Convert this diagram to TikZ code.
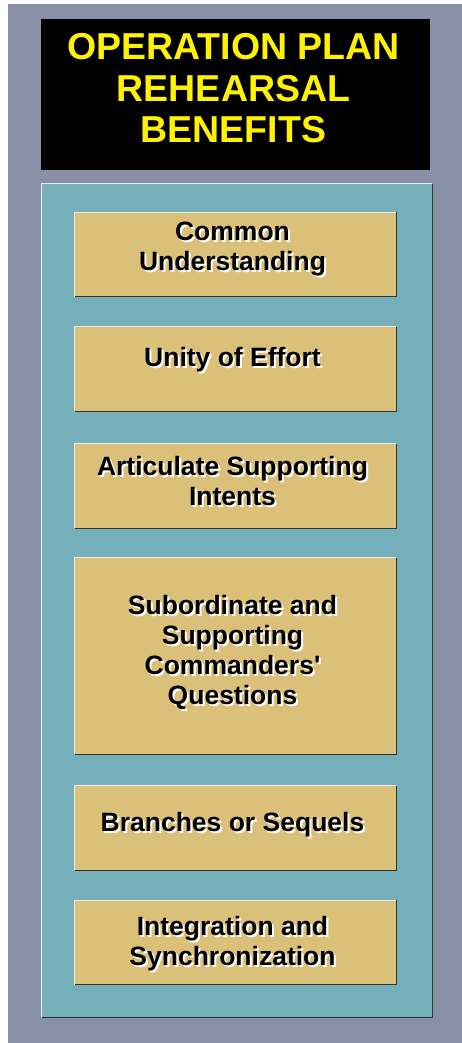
\documentclass[tikz,border=0pt]{standalone}
\usepackage{fontspec}
\setmainfont{Liberation Sans}
\usetikzlibrary{positioning}

\definecolor{slate}{HTML}{8890A8}
\definecolor{teal}{HTML}{74AFBA}
\definecolor{sand}{HTML}{DBC07A}
\definecolor{titleyellow}{HTML}{FFF200}

% text with a white drop shadow
\newcommand{\sh}[1]{\rlap{\kern2pt\raisebox{-2pt}{\textcolor{white}{#1}}}#1}

\begin{document}
\begin{tikzpicture}[x=1pt, y=-1pt]

\tikzset{
  panel/.style={
    rectangle, fill=teal, inner sep=0pt,
    minimum width=390pt, minimum height=833pt
  },
  titlebox/.style={
    rectangle, fill=black, inner sep=0pt,
    minimum width=389pt, minimum height=151pt
  },
  titletext/.style={
    align=center, yshift=6pt, xshift=-2pt,
    text=titleyellow, font=\fontsize{37.5}{41.5}\selectfont\bfseries
  },
  benefit/.style={
    rectangle, fill=sand, inner sep=0pt,
    minimum width=321pt, minimum height=84pt
  },
  caption/.style={
    align=center, yshift=4pt, xshift=-3pt,
    font=\fontsize{26.5}{30}\selectfont\bfseries
  },
  lite/.style={draw=white!85!gray, line width=1pt},
  dark/.style={draw=black!80, line width=1.2pt}
}

% ==========================
% Background
% ==========================
\useasboundingbox (0,0) rectangle (462,1043);
\fill[white] (0,0) rectangle (462,1043);
\fill[slate] (8,4) rectangle (462,1043);

% ==========================
% Title
% ==========================
\node[titlebox, label={[titletext]center:{OPERATION PLAN\\REHEARSAL\\BENEFITS}}]
  (title) at (235.5,94.5) {};

% ==========================
% Teal panel and benefit boxes
% ==========================
\node[panel] (panel) at (237,600.5) {};

\node[benefit, label={[caption]center:{\sh{Common}\\\sh{Understanding}}}]
  (common) at (235.5,254.5) {};
\node[benefit, label={[caption, yshift=4pt]center:{\sh{Unity of Effort}}}]
  (unity) at (235.5,369) {};
\node[benefit, label={[caption]center:{\sh{Articulate Supporting}\\\sh{Intents}}}]
  (intents) at (235.5,486) {};
\node[benefit, minimum height=196pt,
  label={[caption, yshift=-1pt]center:{\sh{Subordinate and}\\\sh{Supporting}\\\sh{Commanders\textquotesingle}\\\sh{Questions}}}]
  (questions) at (235.5,656) {};
\node[benefit, label={[caption, yshift=-2pt]center:{\sh{Branches or Sequels}}}]
  (branches) at (235.5,828) {};
\node[benefit, label={[caption, yshift=-6pt]center:{\sh{Integration and}\\\sh{Synchronization}}}]
  (sync) at (235.5,942.5) {};

% Bevel edges
\foreach \b in {panel,common,unity,intents,questions,branches,sync}{
  \draw[lite] (\b.south west) |- (\b.north east);
  \draw[dark] (\b.south west) -| (\b.north east);
}

\end{tikzpicture}
\end{document}
